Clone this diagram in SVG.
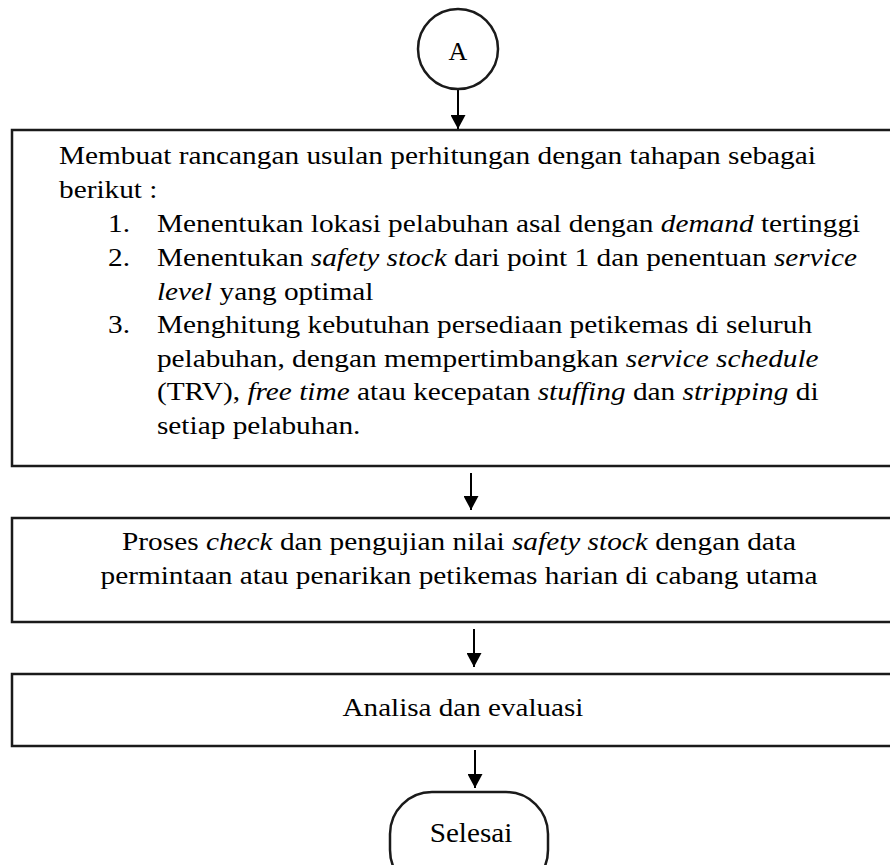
<svg xmlns="http://www.w3.org/2000/svg" width="890" height="865" viewBox="0 0 890 865">
  <style>
    .shape { fill: #ffffff; stroke: #1a1a1a; stroke-width: 2.5; }
    .edge { stroke: #000000; stroke-width: 2; fill: none; }
    .txt { font-family: "Liberation Serif", "Times New Roman", serif; fill: #000000; }
    .it { font-style: italic; }
  </style>
  <defs>
    <marker id="arrowhead" viewBox="0 0 14 15" refX="14" refY="7.5" markerWidth="14" markerHeight="15" markerUnits="userSpaceOnUse" orient="auto">
      <path d="M0,0 L14,7.5 L0,15 Z" fill="#000000"/>
    </marker>
  </defs>

  <rect width="890" height="865" fill="#ffffff"/>

  <!-- connectors -->
  <g id="connectors">
    <line class="edge" x1="458" y1="90" x2="458" y2="129" marker-end="url(#arrowhead)"/>
    <line class="edge" x1="471" y1="473" x2="471" y2="510" marker-end="url(#arrowhead)"/>
    <line class="edge" x1="474" y1="629" x2="474" y2="667" marker-end="url(#arrowhead)"/>
    <line class="edge" x1="475" y1="750" x2="475" y2="788" marker-end="url(#arrowhead)"/>
  </g>

  <!-- start connector A -->
  <g id="node-a">
    <circle class="shape" cx="458" cy="49" r="40"/>
    <text class="txt" x="458" y="60" font-size="26" text-anchor="middle">A</text>
  </g>

  <!-- step 1: proposed calculation design -->
  <g id="node-design">
    <rect class="shape" x="12" y="130" width="890" height="336"/>
    <g transform="matrix(1.173 0 0 1 0 0)" class="txt" font-size="25">
      <text x="50.3" y="164">Membuat rancangan usulan perhitungan dengan tahapan sebagai</text>
      <text x="50.3" y="198">berikut :</text>
      <text x="92.1" y="232">1.</text>
      <text x="133.8" y="232">Menentukan lokasi pelabuhan asal dengan <tspan class="it">demand</tspan> tertinggi</text>
      <text x="92.1" y="266">2.</text>
      <text x="133.8" y="266">Menentukan <tspan class="it">safety stock</tspan> dari point 1 dan penentuan <tspan class="it">service</tspan></text>
      <text x="133.8" y="300"><tspan class="it">level</tspan> yang optimal</text>
      <text x="92.1" y="333">3.</text>
      <text x="133.8" y="333">Menghitung kebutuhan persediaan petikemas di seluruh</text>
      <text x="133.8" y="367">pelabuhan, dengan mempertimbangkan <tspan class="it">service schedule</tspan></text>
      <text x="133.8" y="400">(TRV), <tspan class="it">free time</tspan> atau kecepatan <tspan class="it">stuffing</tspan> dan <tspan class="it">stripping</tspan> di</text>
      <text x="133.8" y="434">setiap pelabuhan.</text>
    </g>
  </g>

  <!-- step 2: safety stock check -->
  <g id="node-check">
    <rect class="shape" x="12" y="518" width="890" height="104"/>
    <g transform="matrix(1.173 0 0 1 0 0)" class="txt" font-size="25" text-anchor="middle">
      <text x="391.3" y="550">Proses <tspan class="it">check</tspan> dan pengujian nilai <tspan class="it">safety stock</tspan> dengan data</text>
      <text x="391.3" y="584">permintaan atau penarikan petikemas harian di cabang utama</text>
    </g>
  </g>

  <!-- step 3: analysis -->
  <g id="node-analysis">
    <rect class="shape" x="12" y="674" width="890" height="72"/>
    <g transform="matrix(1.12 0 0 1 0 0)" class="txt" font-size="26" text-anchor="middle">
      <text x="413.4" y="716">Analisa dan evaluasi</text>
    </g>
  </g>

  <!-- end terminator -->
  <g id="node-end">
    <rect class="shape" x="390" y="792" width="158" height="100" rx="42" ry="42"/>
    <g transform="matrix(1.08 0 0 1 0 0)" class="txt" font-size="27" text-anchor="middle">
      <text x="436.1" y="842">Selesai</text>
    </g>
  </g>
</svg>
